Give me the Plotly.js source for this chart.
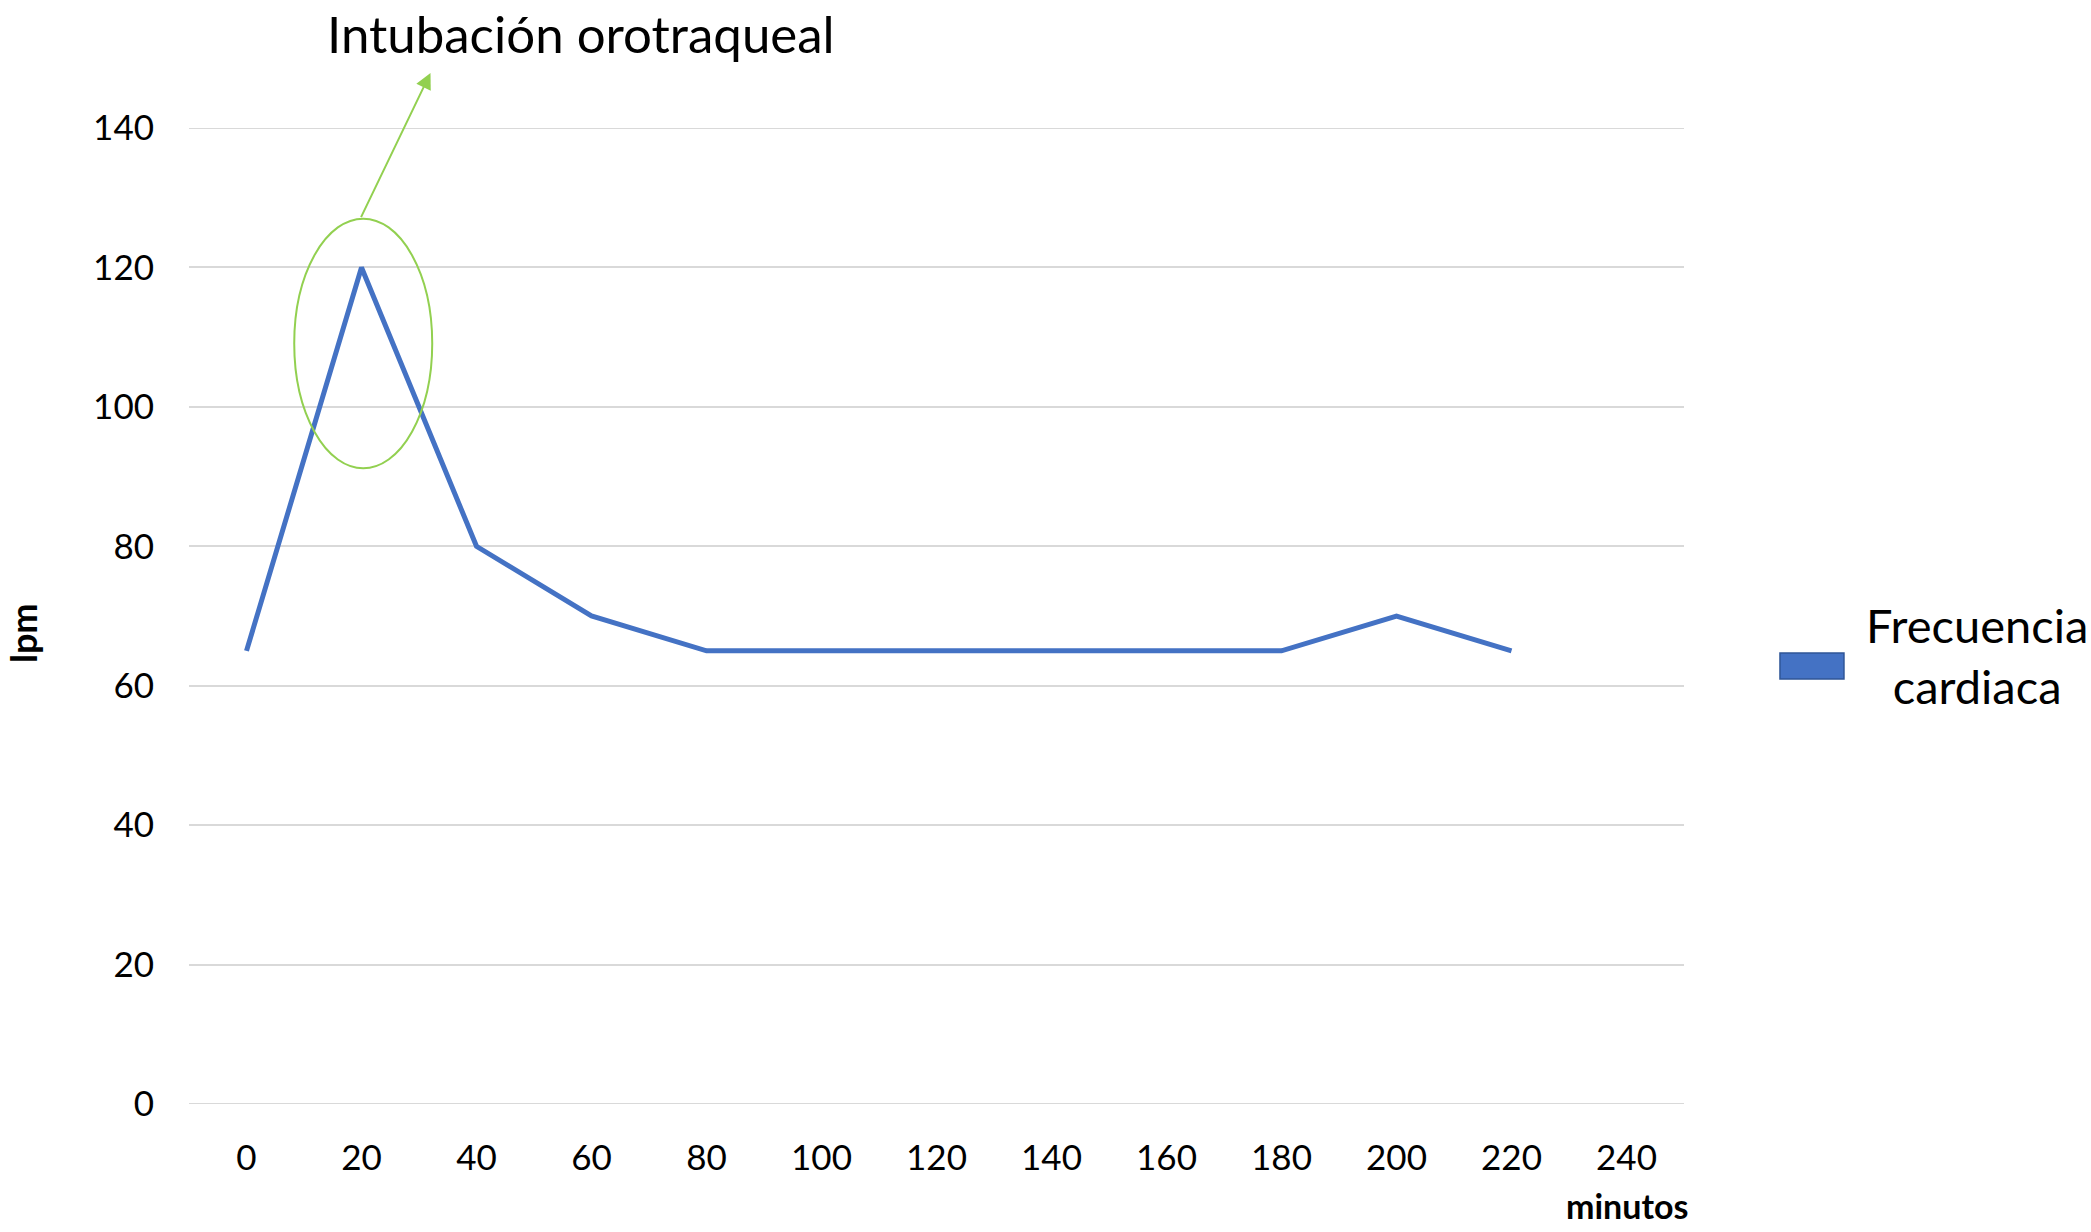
<!DOCTYPE html>
<html>
<head>
<meta charset="utf-8">
<script src="https://cdn.plot.ly/plotly-3.0.1.min.js"></script>
<style>html,body{margin:0;padding:0;background:#fff;}#chart{width:2091px;height:1232px;}</style>
</head>
<body>
<div id="chart"></div>
<script>
const minutos = [0, 20, 40, 60, 80, 100, 120, 140, 160, 180, 200, 220];
const frecuenciaCardiaca = [65, 120, 80, 70, 65, 65, 65, 65, 65, 65, 70, 65];
const xTicks = [0, 20, 40, 60, 80, 100, 120, 140, 160, 180, 200, 220, 240];
const yTicks = [0, 20, 40, 60, 80, 100, 120, 140];
const serieNombre = 'Frecuencia<br>cardiaca';
const tituloAnotacion = 'Intubación orotraqueal';

const FONT = 'Lato, "Open Sans", sans-serif';
const BLUE = '#4472C4';
const GREEN = '#92D050';

const trace = {
  x: minutos, y: frecuenciaCardiaca, type: 'scatter', mode: 'lines',
  line: {color: BLUE, width: 5}, showlegend: false, cliponaxis: false
};

const layout = {
  width: 2091, height: 1232,
  margin: {l: 189, r: 407, t: 128, b: 128},
  paper_bgcolor: '#fff', plot_bgcolor: '#fff',
  font: {family: FONT, color: '#000', size: 35},
  xaxis: {
    range: [-10, 250], tickvals: xTicks, ticktext: xTicks.map(String),
    showgrid: false, zeroline: false, showline: false, ticks: '',
    ticklabelstandoff: 30, fixedrange: true
  },
  yaxis: {
    range: [0, 140], tickvals: yTicks, ticktext: yTicks.map(String),
    showgrid: true, gridcolor: '#d9d9d9', gridwidth: 2,
    zeroline: false, showline: false, ticks: '',
    ticklabelstandoff: 34, fixedrange: true
  },
  shapes: [
    {type: 'line', xref: 'paper', yref: 'y', x0: 0, x1: 1, y0: 0, y1: 0, line: {color: '#d9d9d9', width: 2}, layer: 'below'},
    {type: 'line', xref: 'paper', yref: 'y', x0: 0, x1: 1, y0: 140, y1: 140, line: {color: '#d9d9d9', width: 2}, layer: 'below'},
    {type: 'circle', xref: 'x', yref: 'y', x0: 8.3, x1: 32.3, y0: 91.2, y1: 127, line: {color: GREEN, width: 2}},
    {type: 'rect', xref: 'paper', yref: 'paper', x0: 1.0642, x1: 1.107, y0: 0.4355, y1: 0.4621,
     fillcolor: BLUE, line: {color: '#2F5597', width: 1.5}}
  ],
  annotations: [
    {xref: 'x', yref: 'y', x: 32.0, y: 147.9, axref: 'x', ayref: 'y', ax: 19.8, ay: 127,
     text: '', showarrow: true, arrowhead: 2, arrowsize: 1.6, arrowwidth: 2, arrowcolor: GREEN, standoff: 0, startstandoff: 0},
    {xref: 'paper', yref: 'paper', x: 0.262, y: 1.097, text: tituloAnotacion, showarrow: false,
     font: {size: 51, family: FONT, color: '#000'}, xanchor: 'center', yanchor: 'middle'},
    {xref: 'paper', yref: 'paper', x: -0.111, y: 0.4826, text: '<b>lpm</b>', showarrow: false, textangle: -90,
     font: {size: 36, family: FONT, color: '#000'}, xanchor: 'center', yanchor: 'middle'},
    {xref: 'paper', yref: 'paper', x: 0.962, y: -0.104, text: '<b>minutos</b>', showarrow: false,
     font: {size: 34, family: FONT, color: '#000'}, xanchor: 'center', yanchor: 'middle'},
    {xref: 'paper', yref: 'paper', x: 1.196, y: 0.46, text: serieNombre, showarrow: false, align: 'center',
     font: {size: 47, family: FONT, color: '#000'}, xanchor: 'center', yanchor: 'middle'}
  ]
};

Plotly.newPlot('chart', [trace], layout, {displayModeBar: false, staticPlot: true});
</script>
</body>
</html>
